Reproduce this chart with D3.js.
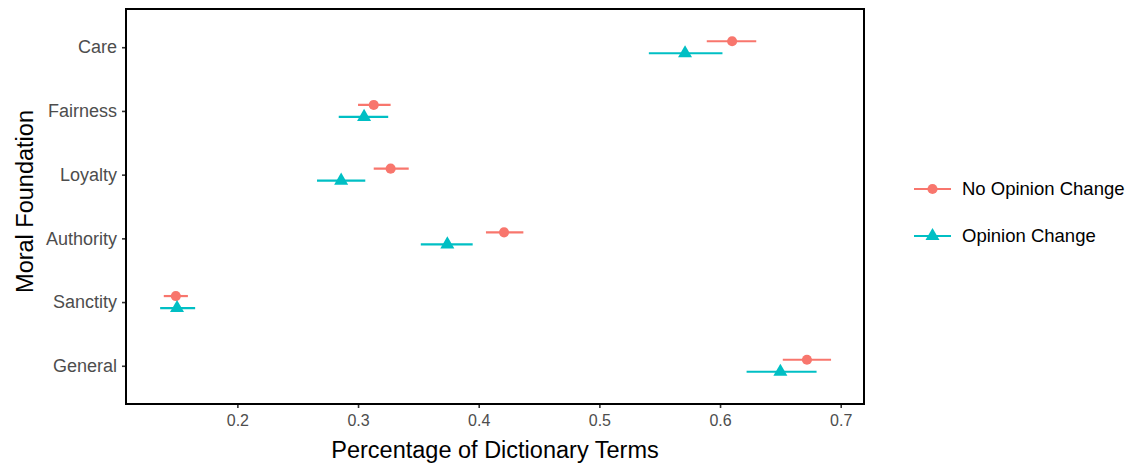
<!DOCTYPE html>
<html>
<head>
<meta charset="utf-8">
<script src="https://cdn.jsdelivr.net/npm/d3@7"></script>
<style>
  html, body { margin: 0; padding: 0; background: #fff; }
  svg { display: block; font-family: "Liberation Sans", Arial, sans-serif; }
</style>
</head>
<body>
<svg id="chart" width="1130" height="463"></svg>
<script>
// Moral foundation categories, top to bottom
const foundations = ["Care", "Fairness", "Loyalty", "Authority", "Sanctity", "General"];
const groups = ["No Opinion Change", "Opinion Change"];

// Mean share of dictionary terms with lower / upper interval bounds
const noChangeMean  = [0.610, 0.313, 0.327, 0.421, 0.149, 0.672];
const noChangeLow   = [0.589, 0.300, 0.313, 0.406, 0.139, 0.652];
const noChangeHigh  = [0.630, 0.327, 0.342, 0.437, 0.159, 0.692];

const changeMean    = [0.571, 0.305, 0.286, 0.374, 0.150, 0.650];
const changeLow     = [0.541, 0.284, 0.266, 0.352, 0.136, 0.622];
const changeHigh    = [0.602, 0.325, 0.306, 0.395, 0.165, 0.680];

const xTicks = [0.2, 0.3, 0.4, 0.5, 0.6, 0.7];
const colors = ["#F8766D", "#00BFC4"];

const svg = d3.select("#chart");
const panel = { left: 126, top: 9, right: 864, bottom: 404 };

const x = d3.scaleLinear()
  .domain([0.1077, 0.7193])
  .range([panel.left, panel.right]);

const y = d3.scalePoint()
  .domain(foundations)
  .range([panel.top, panel.bottom])
  .padding(0.6);

const dodge = 6;
const series = [
  { name: groups[0], mean: noChangeMean, low: noChangeLow, high: noChangeHigh, color: colors[0], off: -dodge, shape: d3.symbolCircle },
  { name: groups[1], mean: changeMean, low: changeLow, high: changeHigh, color: colors[1], off: dodge, shape: d3.symbolTriangle }
];

// Axes
const xAxis = d3.axisBottom(x).tickValues(xTicks).tickSize(4).tickPadding(7).tickFormat(d3.format(".1f"));
const yAxis = d3.axisLeft(y).tickSize(4).tickPadding(5);

const gx = svg.append("g").attr("transform", `translate(0,${panel.bottom})`).call(xAxis);
const gy = svg.append("g").attr("transform", `translate(${panel.left},0)`).call(yAxis);
[gx, gy].forEach(g => {
  g.select(".domain").remove();
  g.selectAll(".tick line").attr("stroke", "#333").attr("stroke-width", 1.6);
  g.selectAll(".tick text").attr("fill", "#4D4D4D");
});
gx.selectAll(".tick text").style("font-size", "16px");
gy.selectAll(".tick text").style("font-size", "18px");

// Data marks
series.forEach(s => {
  const g = svg.append("g");
  g.selectAll("line.err")
    .data(foundations)
    .join("line")
    .attr("x1", (d, i) => x(s.low[i]))
    .attr("x2", (d, i) => x(s.high[i]))
    .attr("y1", d => y(d) + s.off)
    .attr("y2", d => y(d) + s.off)
    .attr("stroke", s.color)
    .attr("stroke-width", 2.2);
  g.selectAll("path.pt")
    .data(foundations)
    .join("path")
    .attr("d", d3.symbol().type(s.shape).size(s.shape === d3.symbolCircle ? 80 : 85))
    .attr("transform", (d, i) => `translate(${x(s.mean[i])},${y(d) + s.off})`)
    .attr("fill", s.color);
});

// Panel border
svg.append("rect")
  .attr("x", panel.left).attr("y", panel.top)
  .attr("width", panel.right - panel.left).attr("height", panel.bottom - panel.top)
  .attr("fill", "none").attr("stroke", "#000").attr("stroke-width", 2);

// Axis titles
svg.append("text")
  .attr("x", (panel.left + panel.right) / 2).attr("y", 458)
  .attr("text-anchor", "middle").style("font-size", "23.5px").attr("fill", "#000")
  .text("Percentage of Dictionary Terms");
svg.append("text")
  .attr("transform", `translate(33,${(panel.top + panel.bottom) / 2 - 5}) rotate(-90)`)
  .attr("text-anchor", "middle").style("font-size", "23.5px").attr("fill", "#000")
  .text("Moral Foundation");

// Legend
const legend = svg.append("g");
series.forEach((s, i) => {
  const ly = 189 + i * 47;
  legend.append("line")
    .attr("x1", 914).attr("x2", 951).attr("y1", ly).attr("y2", ly)
    .attr("stroke", s.color).attr("stroke-width", 2.2);
  legend.append("path")
    .attr("d", d3.symbol().type(s.shape).size(s.shape === d3.symbolCircle ? 80 : 85))
    .attr("transform", `translate(932.5,${ly})`)
    .attr("fill", s.color);
  legend.append("text")
    .attr("x", 962).attr("y", ly).attr("dy", "0.35em")
    .style("font-size", "18.5px").attr("fill", "#000")
    .text(s.name);
});
</script>
</body>
</html>
